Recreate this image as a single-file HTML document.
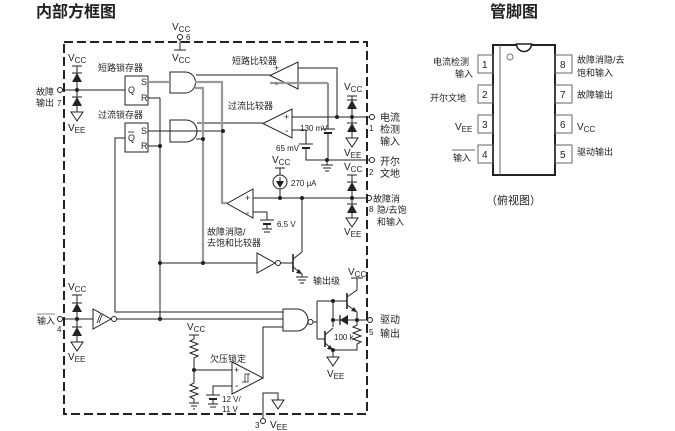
<!DOCTYPE html>
<html><head><meta charset="utf-8"><style>
html,body{margin:0;padding:0;background:#fff;}
svg{display:block;}
text{font-family:"Liberation Sans","Noto Sans CJK SC",sans-serif;fill:#222;}
</style></head><body>
<svg width="675" height="431" viewBox="0 0 675 431" xmlns="http://www.w3.org/2000/svg">
<rect width="675" height="431" fill="#fff"/>

<!-- titles -->
<text x="36" y="17" font-size="16" font-weight="bold" fill="#111">内部方框图</text>
<text x="490" y="17" font-size="16" font-weight="bold" fill="#111">管脚图</text>

<g stroke="#222" stroke-width="1" fill="none">
  <!-- dashed box -->
  <rect x="64" y="42" width="303" height="372" stroke-width="2" stroke-dasharray="9 4"/>

  <!-- pin 6 -->
  <circle cx="180" cy="37" r="2.5"/>
  <line x1="180" y1="39.5" x2="180" y2="50"/>
  <line x1="174" y1="50" x2="186" y2="50"/>

  <!-- left stack pin 7 -->
  <line x1="72" y1="66" x2="82" y2="66"/>
  <line x1="77" y1="66" x2="77" y2="112"/>
  <line x1="72" y1="73" x2="82" y2="73"/>
  <line x1="72" y1="97" x2="82" y2="97"/>
  <polygon points="71,112 83,112 77,121"/>
  <circle cx="60" cy="90" r="2.5"/>
  <line x1="62.5" y1="90" x2="125" y2="90"/>

  <!-- latches -->
  <rect x="125" y="76" width="23" height="29"/>
  <rect x="125" y="123" width="23" height="29"/>
  <line x1="148" y1="98" x2="160" y2="98"/>
  <line x1="160" y1="98" x2="160" y2="319"/>
  <line x1="148" y1="146" x2="160" y2="146"/>
  <polyline points="125,138 115,138 115,312 283,312"/>

  <!-- AND gates -->
  <path d="M170,72 H185 A10.5,10.5 0 0 1 185,93 H170 Z"/>
  <path d="M170,120 H186 A11,11 0 0 1 186,142 H170 Z"/>
  <line x1="196" y1="75" x2="270" y2="75"/>
  <line x1="197" y1="123" x2="263" y2="123"/>
  <line x1="148" y1="131" x2="223" y2="131"/>
  <line x1="196" y1="139" x2="203" y2="139"/>

  <!-- comparators -->
  <polygon points="298,62 298,89 270,75.5"/>
  <polygon points="292,109 292,138 263,123.5"/>
  <polygon points="253,189 253,218 227,203.5"/>
  <polyline points="298,68 337,68 337,117"/>
  <line x1="292" y1="117" x2="369.5" y2="117"/>
  <line x1="328" y1="83" x2="328" y2="129"/>
  <line x1="321" y1="129" x2="335" y2="129"/>
  <line x1="324" y1="133" x2="332" y2="133" stroke-width="2"/>
  <line x1="328" y1="133" x2="328" y2="160"/>
  <polyline points="292,130 306,130 306,144"/>
  <line x1="299" y1="144" x2="313" y2="144"/>
  <line x1="302" y1="148" x2="310" y2="148" stroke-width="2"/>
  <polyline points="306,148 306,160 369.5,160"/>
  <line x1="327" y1="160" x2="327" y2="165"/>
  <line x1="321" y1="165" x2="333" y2="165"/>
  <line x1="323" y1="168" x2="331" y2="168"/>
  <line x1="325" y1="171" x2="329" y2="171"/>

  <!-- right stack pin1 -->
  <line x1="347" y1="96" x2="357" y2="96"/>
  <line x1="352" y1="96" x2="352" y2="138"/>
  <line x1="347" y1="100" x2="357" y2="100"/>
  <line x1="347" y1="123" x2="357" y2="123"/>
  <polygon points="346,138 358,138 352,147"/>
  <circle cx="372" cy="117" r="2.5"/>
  <circle cx="372" cy="160" r="2.5"/>

  <!-- right stack pin 8 -->
  <line x1="347" y1="175" x2="357" y2="175"/>
  <line x1="352" y1="175" x2="352" y2="218"/>
  <line x1="347" y1="182" x2="357" y2="182"/>
  <line x1="347" y1="204" x2="357" y2="204"/>
  <polygon points="346,218 358,218 352,227"/>
  <circle cx="369" cy="198" r="2.5"/>

  <!-- desat -->
  <line x1="253" y1="198" x2="366.5" y2="198"/>
  <polyline points="253,212 267,212 267,220"/>
  <line x1="260" y1="220" x2="274" y2="220"/>
  <line x1="263" y1="224" x2="271" y2="224" stroke-width="2"/>
  <line x1="267" y1="224" x2="267" y2="229"/>
  <line x1="262" y1="229" x2="272" y2="229"/>
  <line x1="264" y1="232" x2="270" y2="232"/>
  <line x1="275" y1="168" x2="285" y2="168"/>
  <line x1="280" y1="168" x2="280" y2="175"/>
  <circle cx="280" cy="182" r="7"/>
  <line x1="280" y1="189" x2="280" y2="198"/>
  <line x1="280" y1="177" x2="280" y2="184"/>
  <line x1="302" y1="198" x2="302" y2="252"/>

  <!-- gray bus lines -->
  <g stroke="#9a9a9a" stroke-width="2.2">
    <line x1="148" y1="82" x2="170" y2="82"/>
    <polyline points="195,82 222,82 222,203 227,203"/>
    <polyline points="195,88 203,88 203,263"/>
    <line x1="270" y1="83" x2="328" y2="83"/>
  </g>

  <!-- inverter / output stage -->
  <line x1="160" y1="263" x2="257" y2="263"/>
  <polygon points="257,253 257,273 275,263"/>
  <circle cx="278" cy="263" r="2.5"/>
  <line x1="280.5" y1="263" x2="293" y2="263"/>
  <line x1="293" y1="254" x2="293" y2="272" stroke-width="1.6"/>
  <polyline points="293,259 302,252"/>
  <polyline points="293,267 302,274 302,277"/>
  <line x1="296" y1="277" x2="308" y2="277"/>
  <line x1="298" y1="280" x2="306" y2="280"/>
  <line x1="300" y1="283" x2="304" y2="283"/>

  <!-- pin 4 -->
  <line x1="72" y1="295" x2="82" y2="295"/>
  <line x1="77" y1="295" x2="77" y2="342"/>
  <line x1="72" y1="303" x2="82" y2="303"/>
  <line x1="72" y1="327" x2="82" y2="327"/>
  <polygon points="71,342 83,342 77,351"/>
  <circle cx="60" cy="319" r="2.5"/>
  <line x1="62.5" y1="319" x2="93" y2="319"/>
  <polygon points="93,309 93,329 111,319"/>
  <circle cx="114" cy="319" r="2.5"/>
  <line x1="116.5" y1="319" x2="283" y2="319"/>
  <path d="M97,323 C99,318 99,316 101,314 M99,323 C101,318 101,316 103,314" stroke-width="0.8"/>

  <!-- NAND -->
  <path d="M283,309 H297 A11,11 0 0 1 297,331 H283 Z"/>
  <circle cx="310.5" cy="322" r="2.5"/>
  <polyline points="263,378 263,327 283,327"/>
  <line x1="317" y1="301" x2="317" y2="339"/>
  <line x1="313" y1="322" x2="317" y2="322"/>
  <line x1="317" y1="301" x2="347" y2="301"/>
  <line x1="317" y1="339" x2="325" y2="339"/>
  <line x1="333" y1="301" x2="333" y2="327"/>

  <!-- upper transistor -->
  <line x1="347" y1="293" x2="347" y2="309" stroke-width="1.6"/>
  <polyline points="347,297 357,290 357,278"/>
  <line x1="351" y1="278" x2="363" y2="278"/>
  <polyline points="347,305 357,312 357,320"/>
  <line x1="333" y1="320" x2="367.5" y2="320"/>
  <line x1="340" y1="315" x2="340" y2="325" stroke-width="1.3"/>
  <circle cx="370" cy="320" r="2.5"/>

  <!-- lower transistor -->
  <line x1="325" y1="331" x2="325" y2="347" stroke-width="1.6"/>
  <polyline points="325,335 333,328"/>
  <polyline points="325,343 333,350"/>
  <polyline points="357,320 357,325 353,327 361,330 353,333 361,336 353,339 361,342 357,344 357,350 333,350"/>
  <line x1="333" y1="350" x2="333" y2="357"/>
  <polygon points="327,357 339,357 333,366"/>

  <!-- UVLO -->
  <line x1="189" y1="335" x2="199" y2="335"/>
  <polyline points="194,335 194,339 190,341 198,344 190,347 198,350 190,353 198,356 194,358 194,383 190,385 198,388 190,391 198,394 190,397 194,399 194,403"/>
  <line x1="189" y1="403" x2="199" y2="403"/>
  <line x1="191" y1="406" x2="197" y2="406"/>
  <line x1="193" y1="409" x2="195" y2="409"/>
  <line x1="194" y1="370" x2="232" y2="370"/>
  <polygon points="232,362 232,394 263,378"/>
  <polyline points="242,382 245,382 245,374 249,374" stroke-width="0.8"/>
  <polyline points="244,382 248,382 248,374 250,374" stroke-width="0.8"/>
  <polyline points="232,386 213,386 213,395"/>
  <line x1="206" y1="395" x2="220" y2="395"/>
  <line x1="209" y1="399" x2="217" y2="399" stroke-width="2"/>
  <line x1="213" y1="399" x2="213" y2="404"/>
  <line x1="208" y1="404" x2="218" y2="404"/>
  <line x1="210" y1="407" x2="216" y2="407"/>

  <!-- pin 3 -->
  <circle cx="263" cy="421" r="2.5"/>
  <polyline points="263,418.5 263,393 278,393 278,400"/>
  <polygon points="272,400 284,400 278,409"/>

  <!-- pin diagram -->
  <rect x="493" y="45" width="62" height="130" stroke-width="2"/>
  <line x1="500" y1="45" x2="500" y2="175" stroke="#666"/>
  <circle cx="510" cy="57" r="3" stroke="#777"/>
  <g stroke="#666">
    <rect x="478" y="55" width="15" height="18"/>
    <rect x="478" y="85" width="15" height="18"/>
    <rect x="478" y="115" width="15" height="18"/>
    <rect x="478" y="145" width="15" height="18"/>
    <rect x="555" y="55" width="17" height="18"/>
    <rect x="555" y="85" width="17" height="18"/>
    <rect x="555" y="115" width="17" height="18"/>
    <rect x="555" y="145" width="17" height="18"/>
    <line x1="452" y1="150" x2="475" y2="150"/>
  </g>
</g>
<path d="M516.5,44 A7.5,7.5 0 0 0 531.5,44 Z" fill="#fff" stroke="#222" stroke-width="1.5"/>

<!-- filled items -->
<g fill="#222">
  <polygon points="77,73 72,82 82,82"/>
  <polygon points="77,97 72,106 82,106"/>
  <polygon points="352,100 347,109 357,109"/>
  <polygon points="352,123 347,132 357,132"/>
  <polygon points="352,182 347,191 357,191"/>
  <polygon points="352,204 347,213 357,213"/>
  <polygon points="77,303 72,312 82,312"/>
  <polygon points="77,327 72,336 82,336"/>
  <polygon points="340,320 348,315 348,325"/>
  <polygon points="280,188 276,181 284,181"/>
  <polygon points="302,274 296,273 299,269"/>
  <polygon points="333,350 327,349 330,345"/>
  <polygon points="357,312 351,311 354,307"/>
  <circle cx="77" cy="90" r="2"/>
  <circle cx="77" cy="319" r="2"/>
  <circle cx="160" cy="146" r="2"/>
  <circle cx="160" cy="263" r="2"/>
  <circle cx="203" cy="263" r="2"/>
  <circle cx="160" cy="319" r="2"/>
  <circle cx="203" cy="139" r="2"/>
  <circle cx="223" cy="131" r="2"/>
  <circle cx="337" cy="117" r="2"/>
  <circle cx="352" cy="117" r="2"/>
  <circle cx="327" cy="160" r="2"/>
  <circle cx="280" cy="198" r="2"/>
  <circle cx="302" cy="198" r="2"/>
  <circle cx="352" cy="198" r="2"/>
  <circle cx="333" cy="301" r="2"/>
  <circle cx="333" cy="320" r="2"/>
  <circle cx="357" cy="320" r="2"/>
  <circle cx="333" cy="350" r="2"/>
  <circle cx="194" cy="370" r="2"/>
</g>

<!-- labels -->
<g font-size="10">
  <text x="172" y="30">V<tspan font-size="8" dy="2">CC</tspan></text>
  <text x="172" y="61">V<tspan font-size="8" dy="2">CC</tspan></text>
  <text x="68" y="61">V<tspan font-size="8" dy="2">CC</tspan></text>
  <text x="68" y="131">V<tspan font-size="8" dy="2">EE</tspan></text>
  <text x="344" y="90">V<tspan font-size="8" dy="2">CC</tspan></text>
  <text x="344" y="156">V<tspan font-size="8" dy="2">EE</tspan></text>
  <text x="344" y="170">V<tspan font-size="8" dy="2">CC</tspan></text>
  <text x="344" y="235">V<tspan font-size="8" dy="2">EE</tspan></text>
  <text x="272" y="163">V<tspan font-size="8" dy="2">CC</tspan></text>
  <text x="68" y="290">V<tspan font-size="8" dy="2">CC</tspan></text>
  <text x="68" y="360">V<tspan font-size="8" dy="2">EE</tspan></text>
  <text x="187" y="330">V<tspan font-size="8" dy="2">CC</tspan></text>
  <text x="348" y="275">V<tspan font-size="8" dy="2">CC</tspan></text>
  <text x="327" y="377">V<tspan font-size="8" dy="2">EE</tspan></text>
  <text x="270" y="428">V<tspan font-size="8" dy="2">EE</tspan></text>
</g>
<g font-size="8">
  <text x="186" y="40">6</text>
  <text x="141" y="85" font-size="9">S</text>
  <text x="141" y="101" font-size="9">R</text>
  <text x="128" y="93" font-size="9">Q</text>
  <text x="141" y="134" font-size="9">S</text>
  <text x="141" y="149" font-size="9">R</text>
  <text x="128" y="141" font-size="9">Q</text>
  <text x="274" y="71" font-size="9">+</text>
  <text x="275" y="87" font-size="10">-</text>
  <text x="284" y="120" font-size="9">+</text>
  <text x="285" y="134" font-size="10">-</text>
  <text x="245" y="201" font-size="9">+</text>
  <text x="246" y="216" font-size="10">-</text>
  <text x="234" y="373" font-size="9">+</text>
  <text x="235" y="389" font-size="10">-</text>
  <text x="300" y="131">130 mV</text>
  <text x="276" y="151">65 mV</text>
  <text x="277" y="227">6.5 V</text>
  <text x="291" y="186">270 μA</text>
  <text x="334" y="340">100 k</text>
  <text x="222" y="402">12 V/</text>
  <text x="222" y="412">11 V</text>
  <text x="255" y="428">3</text>
  <text x="369" y="131">1</text>
  <text x="369" y="175">2</text>
  <text x="369" y="212">8</text>
  <text x="369" y="335">5</text>
  <text x="57" y="106">7</text>
  <text x="57" y="332">4</text>
</g>
<line x1="128" y1="132" x2="134" y2="132" stroke="#222" stroke-width="0.8"/>
<g font-size="9">
  <text x="98" y="71">短路锁存器</text>
  <text x="98" y="118">过流锁存器</text>
  <text x="232" y="64">短路比较器</text>
  <text x="228" y="109">过流比较器</text>
  <text x="207" y="235">故障消隐/</text>
  <text x="207" y="246">去饱和比较器</text>
  <text x="313" y="284">输出级</text>
  <text x="210" y="362">欠压锁定</text>
  <text x="36" y="95">故障</text>
  <text x="36" y="106">输出</text>
  <text x="37" y="324">输入</text>
  <text x="380" y="121" font-size="10">电流</text>
  <text x="380" y="133" font-size="10">检测</text>
  <text x="380" y="145" font-size="10">输入</text>
  <text x="380" y="165" font-size="10">开尔</text>
  <text x="380" y="177" font-size="10">文地</text>
  <text x="373" y="202">故障消</text>
  <text x="377" y="213">隐/去饱</text>
  <text x="377" y="225">和输入</text>
  <text x="380" y="323" font-size="10">驱动</text>
  <text x="380" y="337" font-size="10">输出</text>
</g>
<line x1="37" y1="314" x2="55" y2="314" stroke="#666" stroke-width="0.8"/>

<!-- pin diagram text -->
<g font-size="9" fill="#333">
  <text x="433" y="65">电流检测</text>
  <text x="455" y="77">输入</text>
  <text x="430" y="101">开尔文地</text>
  <text x="453" y="161">输入</text>
  <text x="577" y="63">故障消隐/去</text>
  <text x="577" y="76">饱和输入</text>
  <text x="577" y="98">故障输出</text>
  <text x="577" y="155">驱动输出</text>
</g>
<text x="455" y="130" font-size="10">V<tspan font-size="8" dy="2">EE</tspan></text>
<text x="577" y="130" font-size="10">V<tspan font-size="8" dy="2">CC</tspan></text>
<g font-size="10" fill="#333">
  <text x="482" y="68">1</text>
  <text x="482" y="98">2</text>
  <text x="482" y="128">3</text>
  <text x="482" y="158">4</text>
  <text x="560" y="68">8</text>
  <text x="560" y="98">7</text>
  <text x="560" y="128">6</text>
  <text x="560" y="158">5</text>
</g>
<text x="486" y="204" font-size="11" fill="#555">（俯视图）</text>
</svg>
</body></html>
